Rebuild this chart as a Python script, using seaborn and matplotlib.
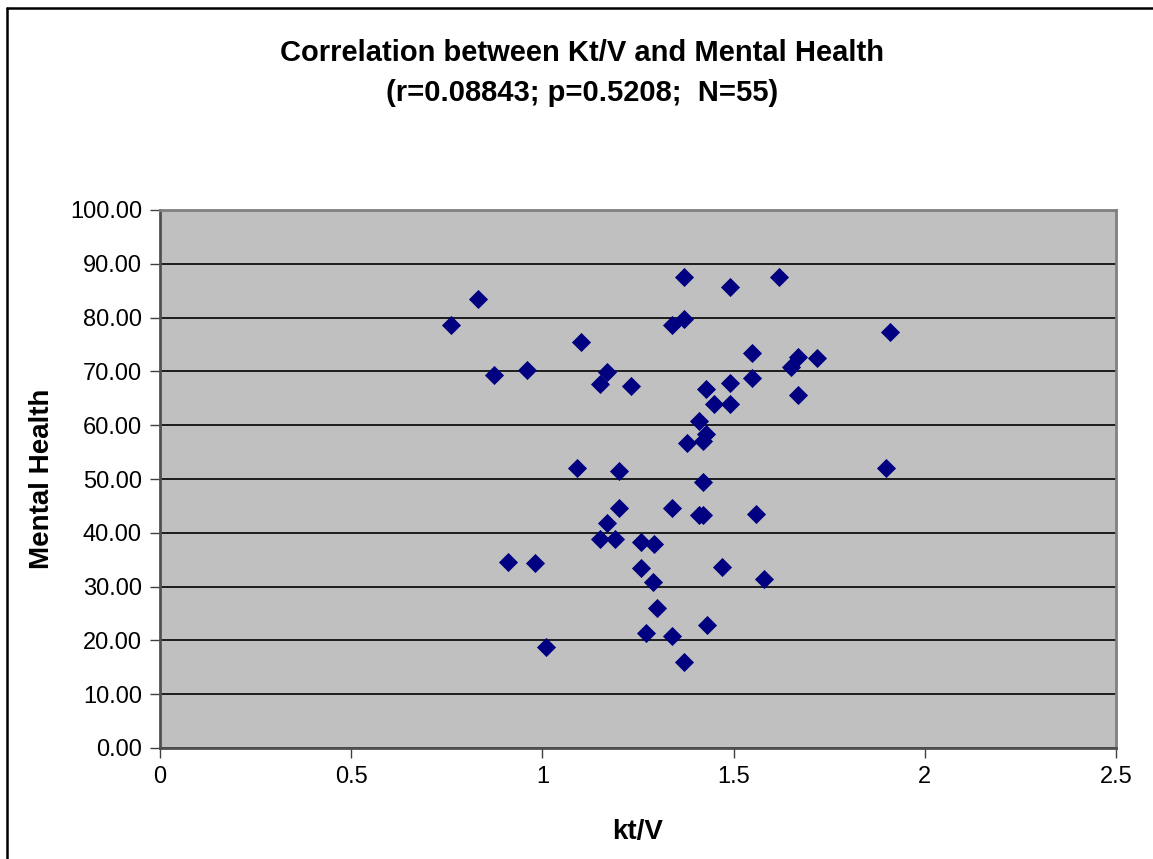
import numpy as np
import pandas as pd
import matplotlib
matplotlib.use("Agg")
import matplotlib.pyplot as plt
import seaborn as sns

# values
ktv = [0.762, 0.831, 0.873, 0.961, 1.102, 1.150, 1.170, 1.231, 1.339, 1.370,
       1.491, 1.619, 1.370, 1.908, 1.549, 1.668, 1.649, 1.718, 1.549, 1.429,
       1.490, 1.449, 1.490, 1.668, 1.409, 1.427, 1.419, 1.379, 1.091, 1.201,
       1.201, 1.339, 1.169, 1.150, 1.191, 1.259, 1.291, 0.911, 0.980, 1.259,
       1.290, 1.300, 1.270, 1.339, 1.010, 1.371, 1.898, 1.420, 1.410, 1.421,
       1.559, 1.470, 1.580, 1.430]
mental_health = [78.6, 83.4, 69.3, 70.3, 75.5, 67.6, 69.9, 67.2, 78.7, 87.5,
                 85.7, 87.5, 79.7, 77.4, 73.5, 72.7, 70.9, 72.4, 68.8, 66.7,
                 67.8, 63.9, 63.9, 65.6, 60.7, 58.3, 57.1, 56.6, 52.1, 51.4,
                 44.7, 44.7, 41.8, 38.9, 38.8, 38.2, 38.0, 34.5, 34.3, 33.5,
                 30.9, 26.1, 21.4, 20.9, 18.8, 16.0, 52.1, 49.5, 43.4, 43.4,
                 43.5, 33.7, 31.4, 22.8]
x_ticks = [0, 0.5, 1, 1.5, 2, 2.5]
x_tick_labels = ['0', '0.5', '1', '1.5', '2', '2.5']
y_ticks = list(range(0, 101, 10))

df = pd.DataFrame({'ktv': ktv, 'mh': mental_health})

sns.set_style("white")
plt.rcParams['font.family'] = ['Liberation Sans', 'DejaVu Sans']
plt.rcParams['text.color'] = 'black'
plt.rcParams['axes.labelcolor'] = 'black'
plt.rcParams['xtick.color'] = 'black'
plt.rcParams['ytick.color'] = 'black'

fig = plt.figure(figsize=(11.53, 8.59), dpi=100)
ax = fig.add_axes([160 / 1153, 1 - 748 / 859, (1116 - 160) / 1153, (748 - 210) / 859])
ax.set_facecolor('#C0C0C0')

sns.scatterplot(data=df, x='ktv', y='mh', marker='D', s=95, color='#000080',
                edgecolor='#000080', linewidth=0, ax=ax, zorder=3)

ax.set_xlim(0, 2.5)
ax.set_ylim(0, 100)
ax.set_xticks(x_ticks)
ax.set_xticklabels(x_tick_labels)
ax.set_yticks(y_ticks)
ax.set_yticklabels([f'{v:.2f}' for v in y_ticks])
ax.yaxis.grid(True, color='black', linewidth=1.2)
ax.set_axisbelow(True)
ax.tick_params(axis='both', direction='out', length=7, width=1, color='#404040',
               labelsize=17, pad=6, left=True, bottom=True)
for side in ['top', 'right', 'left', 'bottom']:
    ax.spines[side].set_color('#808080')
    ax.spines[side].set_linewidth(2)
ax.spines['left'].set_color('#505050')
ax.spines['bottom'].set_color('#505050')

ax.set_xlabel('kt/V', fontsize=20, fontweight='bold', labelpad=22)
ax.set_ylabel('Mental Health', fontsize=20, fontweight='bold', labelpad=11)

fig.text(582 / 1153, 1 - 53 / 859, 'Correlation between Kt/V and Mental Health',
         ha='center', va='center', fontsize=21, fontweight='bold')
fig.text(582 / 1153, 1 - 93 / 859, '(r=0.08843; p=0.5208;  N=55)',
         ha='center', va='center', fontsize=21, fontweight='bold')

# outer chart frame: only top and left edges show in the reference
fig.add_artist(plt.Line2D([7 / 1153, 1], [1 - 7.5 / 859, 1 - 7.5 / 859],
                          transform=fig.transFigure, color='black', linewidth=1.8))
fig.add_artist(plt.Line2D([7 / 1153, 7 / 1153], [0, 1 - 7.5 / 859],
                          transform=fig.transFigure, color='black', linewidth=1.8))

fig.savefig('out.png', dpi=100)
